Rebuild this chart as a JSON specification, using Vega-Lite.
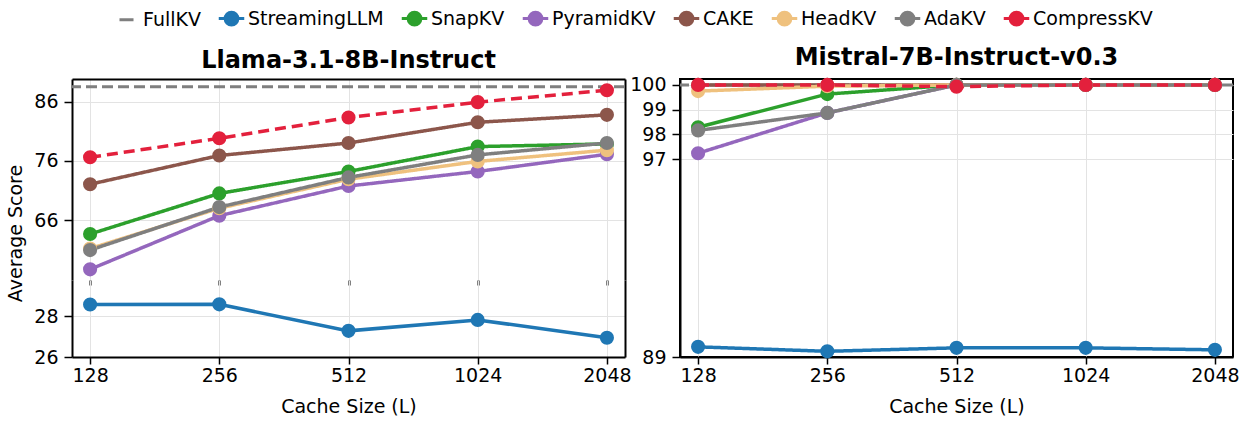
{
  "$schema": "https://vega.github.io/schema/vega-lite/v6.json",
  "background": "white",
  "padding": {"left": 6, "top": 4, "right": 2, "bottom": 2},
  "config": {
    "font": "DejaVu Sans",
    "view": {"stroke": null},
    "axis": {
      "domainColor": "#000", "domainWidth": 2,
      "tickColor": "#000", "tickWidth": 1.5, "tickSize": 8,
      "labelFontSize": 19, "labelColor": "#000", "labelPadding": 6,
      "titleFontSize": 19, "titleFontWeight": "normal", "titleColor": "#000",
      "gridColor": "#e3e3e3", "gridWidth": 1
    },
    "axisX": {"tickSize": 7, "labelPadding": 2, "titlePadding": 12},
    "title": {"fontSize": 24, "fontWeight": "bold", "color": "#000", "offset": 6, "anchor": "middle", "frame": "group"}
  },
  "datasets": {
    "llama_up": [
      {"method": "SnapKV", "L": "128", "score": 63.65},
      {"method": "SnapKV", "L": "256", "score": 70.5},
      {"method": "SnapKV", "L": "512", "score": 74.2},
      {"method": "SnapKV", "L": "1024", "score": 78.4},
      {"method": "SnapKV", "L": "2048", "score": 78.85},
      {"method": "PyramidKV", "L": "128", "score": 57.7},
      {"method": "PyramidKV", "L": "256", "score": 66.75},
      {"method": "PyramidKV", "L": "512", "score": 71.75},
      {"method": "PyramidKV", "L": "1024", "score": 74.2},
      {"method": "PyramidKV", "L": "2048", "score": 77.1},
      {"method": "CAKE", "L": "128", "score": 72.05},
      {"method": "CAKE", "L": "256", "score": 76.9},
      {"method": "CAKE", "L": "512", "score": 79.0},
      {"method": "CAKE", "L": "1024", "score": 82.5},
      {"method": "CAKE", "L": "2048", "score": 83.75},
      {"method": "HeadKV", "L": "128", "score": 61.2},
      {"method": "HeadKV", "L": "256", "score": 68.0},
      {"method": "HeadKV", "L": "512", "score": 72.9},
      {"method": "HeadKV", "L": "1024", "score": 75.9},
      {"method": "HeadKV", "L": "2048", "score": 77.8},
      {"method": "AdaKV", "L": "128", "score": 60.95},
      {"method": "AdaKV", "L": "256", "score": 68.2},
      {"method": "AdaKV", "L": "512", "score": 73.2},
      {"method": "AdaKV", "L": "1024", "score": 77.0},
      {"method": "AdaKV", "L": "2048", "score": 79.0},
      {"method": "CompressKV", "L": "128", "score": 76.6},
      {"method": "CompressKV", "L": "256", "score": 79.8},
      {"method": "CompressKV", "L": "512", "score": 83.3},
      {"method": "CompressKV", "L": "1024", "score": 85.9},
      {"method": "CompressKV", "L": "2048", "score": 87.9}
    ],
    "llama_full": [{"method": "FullKV", "score": 88.5}],
    "llama_low": [
      {"method": "StreamingLLM", "L": "128", "score": 28.59},
      {"method": "StreamingLLM", "L": "256", "score": 28.6},
      {"method": "StreamingLLM", "L": "512", "score": 27.29},
      {"method": "StreamingLLM", "L": "1024", "score": 27.83},
      {"method": "StreamingLLM", "L": "2048", "score": 26.95}
    ],
    "mistral": [
      {"method": "StreamingLLM", "L": "128", "score": 89.41},
      {"method": "StreamingLLM", "L": "256", "score": 89.23},
      {"method": "StreamingLLM", "L": "512", "score": 89.37},
      {"method": "StreamingLLM", "L": "1024", "score": 89.37},
      {"method": "StreamingLLM", "L": "2048", "score": 89.29},
      {"method": "SnapKV", "L": "128", "score": 98.29},
      {"method": "SnapKV", "L": "256", "score": 99.63},
      {"method": "SnapKV", "L": "512", "score": 100},
      {"method": "SnapKV", "L": "1024", "score": 100},
      {"method": "SnapKV", "L": "2048", "score": 100},
      {"method": "PyramidKV", "L": "128", "score": 97.24},
      {"method": "PyramidKV", "L": "256", "score": 98.87},
      {"method": "PyramidKV", "L": "512", "score": 100},
      {"method": "PyramidKV", "L": "1024", "score": 100},
      {"method": "PyramidKV", "L": "2048", "score": 100},
      {"method": "CAKE", "L": "128", "score": 100},
      {"method": "CAKE", "L": "256", "score": 100},
      {"method": "CAKE", "L": "512", "score": 100},
      {"method": "CAKE", "L": "1024", "score": 100},
      {"method": "CAKE", "L": "2048", "score": 100},
      {"method": "HeadKV", "L": "128", "score": 99.75},
      {"method": "HeadKV", "L": "256", "score": 99.95},
      {"method": "HeadKV", "L": "512", "score": 100},
      {"method": "HeadKV", "L": "1024", "score": 100},
      {"method": "HeadKV", "L": "2048", "score": 100},
      {"method": "AdaKV", "L": "128", "score": 98.16},
      {"method": "AdaKV", "L": "256", "score": 98.87},
      {"method": "AdaKV", "L": "512", "score": 100},
      {"method": "AdaKV", "L": "1024", "score": 100},
      {"method": "AdaKV", "L": "2048", "score": 100},
      {"method": "CompressKV", "L": "128", "score": 100},
      {"method": "CompressKV", "L": "256", "score": 100},
      {"method": "CompressKV", "L": "512", "score": 99.93},
      {"method": "CompressKV", "L": "1024", "score": 100},
      {"method": "CompressKV", "L": "2048", "score": 100}
    ],
    "mistral_full": [{"method": "FullKV", "score": 100}]
  },
  "spacing": -4,
  "hconcat": [
    {
      "bounds": "flush",
      "spacing": 0,
      "vconcat": [
        {
          "title": {"text": "Llama-3.1-8B-Instruct"},
          "width": 553, "height": 201,
          "layer": [
            {
              "data": {"name": "llama_up"},
              "mark": {"type": "point", "opacity": 0},
              "encoding": {
                "x": {"field": "L", "type": "ordinal", "sort": ["128","256","512","1024","2048"], "scale": {"type": "point", "padding": 0.14},
                      "axis": {"orient": "top", "labels": false, "ticks": false, "grid": false, "title": null, "domain": true}},
                "y": {"field": "score", "type": "quantitative", "scale": {"domain": [55.9, 89.8], "nice": false, "zero": false},
                      "axis": {"orient": "right", "labels": false, "ticks": false, "grid": false, "title": null, "domain": true}}
              }
            },
            {
              "layer": [
                {
                  "data": {"name": "llama_full"},
                  "mark": {"type": "rule", "strokeDash": [11, 5], "strokeWidth": 3},
                  "encoding": {
                    "y": {"field": "score", "type": "quantitative", "scale": {"domain": [55.9, 89.8], "nice": false, "zero": false},
                          "axis": {"orient": "left", "values": [66, 76, 86], "title": "Average Score", "titleY": 154, "titlePadding": 8, "grid": true}},
                    "color": {"field": "method", "type": "nominal",
                      "scale": {"domain": ["FullKV","StreamingLLM","SnapKV","PyramidKV","CAKE","HeadKV","AdaKV","CompressKV"],
                                "range": ["#7f7f7f","#1f77b4","#2ca02c","#9467bd","#8c564b","#efc17e","#7f7f7f","#e3203c"]},
                      "legend": {"orient": "none", "legendX": 40, "legendY": -75, "direction": "horizontal", "title": null,
                        "labelFontSize": 19, "labelColor": "#000", "symbolSize": 650, "labelOffset": 2, "columnPadding": 11,
                        "symbolStrokeWidth": 3,
                        "encode": {"symbols": {"update": {
                          "shape": {"signal": "datum.value === 'FullKV' ? 'M-0.55,0L0.55,0' : 'M-1,0L1,0M-0.5,0A0.5,0.5 0 1,0 0.5,0A0.5,0.5 0 1,0 -0.5,0'"},
                          "fill": {"signal": "scale('color', datum.value)"},
                          "stroke": {"signal": "scale('color', datum.value)"},
                          "strokeWidth": {"value": 3}, "opacity": {"value": 1}, "fillOpacity": {"value": 1}, "strokeOpacity": {"value": 1}}}}}
                    }
                  }
                },
                {
                  "data": {"name": "llama_up"},
                  "mark": {"type": "line", "strokeWidth": 3.5},
                  "encoding": {
                    "x": {"field": "L", "type": "ordinal", "sort": ["128","256","512","1024","2048"], "scale": {"type": "point", "padding": 0.14},
                          "axis": {"orient": "bottom", "labels": false, "domain": false, "ticks": true, "tickSize": 5, "tickWidth": 2, "title": null, "grid": true}},
                    "y": {"field": "score", "type": "quantitative", "scale": {"domain": [55.9, 89.8], "nice": false, "zero": false}},
                    "color": {"field": "method", "type": "nominal"},
                    "strokeDash": {"condition": {"test": "datum.method === 'CompressKV'", "value": [11, 6]}, "value": [1, 0]}
                  }
                },
                {
                  "data": {"name": "llama_up"},
                  "mark": {"type": "point", "filled": true, "size": 200, "opacity": 1},
                  "encoding": {
                    "x": {"field": "L", "type": "ordinal", "sort": ["128","256","512","1024","2048"]},
                    "y": {"field": "score", "type": "quantitative"},
                    "color": {"field": "method", "type": "nominal"}
                  }
                }
              ]
            }
          ],
          "resolve": {"scale": {"x": "independent", "y": "independent"}}
        },
        {
          "width": 553, "height": 77,
          "layer": [
            {
              "data": {"name": "llama_low"},
              "mark": {"type": "point", "opacity": 0},
              "encoding": {
                "y": {"field": "score", "type": "quantitative", "scale": {"domain": [26, 29.8], "nice": false, "zero": false},
                      "axis": {"orient": "right", "labels": false, "ticks": false, "grid": false, "title": null, "domain": true}}
              }
            },
            {
              "layer": [
                {
                  "data": {"name": "llama_low"},
                  "mark": {"type": "line", "strokeWidth": 3.5},
                  "encoding": {
                    "x": {"field": "L", "type": "ordinal", "sort": ["128","256","512","1024","2048"], "scale": {"type": "point", "padding": 0.14},
                          "axis": {"orient": "bottom", "labelAngle": 0, "title": "Cache Size (L)", "grid": true}},
                    "y": {"field": "score", "type": "quantitative", "scale": {"domain": [26, 29.8], "nice": false, "zero": false},
                          "axis": {"orient": "left", "values": [26, 28], "title": null, "grid": true}},
                    "color": {"field": "method", "type": "nominal"}
                  }
                },
                {
                  "data": {"name": "llama_low"},
                  "mark": {"type": "point", "filled": true, "size": 200, "opacity": 1},
                  "encoding": {
                    "x": {"field": "L", "type": "ordinal", "sort": ["128","256","512","1024","2048"]},
                    "y": {"field": "score", "type": "quantitative"},
                    "color": {"field": "method", "type": "nominal"}
                  }
                }
              ]
            }
          ],
          "resolve": {"scale": {"y": "independent"}}
        }
      ]
    },
    {
      "title": {"text": "Mistral-7B-Instruct-v0.3"},
      "width": 553, "height": 278,
      "view": {"stroke": "#000", "strokeWidth": 2},
      "layer": [
        {
          "data": {"name": "mistral_full"},
          "mark": {"type": "rule", "strokeDash": [11, 5], "strokeWidth": 3},
          "encoding": {
            "y": {"field": "score", "type": "quantitative", "scale": {"domain": [89, 100.24], "nice": false, "zero": false},
                  "axis": {"orient": "left", "values": [89, 97, 98, 99, 100], "title": null, "grid": true}},
            "color": {"field": "method", "type": "nominal"}
          }
        },
        {
          "data": {"name": "mistral"},
          "mark": {"type": "line", "strokeWidth": 3.5},
          "encoding": {
            "x": {"field": "L", "type": "ordinal", "sort": ["128","256","512","1024","2048"], "scale": {"type": "point", "padding": 0.14},
                  "axis": {"orient": "bottom", "labelAngle": 0, "title": "Cache Size (L)", "grid": true}},
            "y": {"field": "score", "type": "quantitative", "scale": {"domain": [89, 100.24], "nice": false, "zero": false}},
            "color": {"field": "method", "type": "nominal"},
            "strokeDash": {"condition": {"test": "datum.method === 'CompressKV'", "value": [11, 6]}, "value": [1, 0]}
          }
        },
        {
          "data": {"name": "mistral"},
          "mark": {"type": "point", "filled": true, "size": 200, "opacity": 1},
          "encoding": {
            "x": {"field": "L", "type": "ordinal", "sort": ["128","256","512","1024","2048"]},
            "y": {"field": "score", "type": "quantitative"},
            "color": {"field": "method", "type": "nominal"}
          }
        }
      ]
    }
  ]
}
